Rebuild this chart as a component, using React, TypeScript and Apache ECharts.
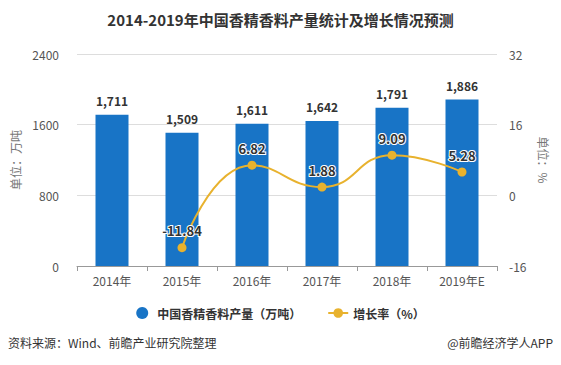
import React, { useEffect, useRef } from "react";
import * as echarts from "echarts";

const categories = ["2014年", "2015年", "2016年", "2017年", "2018年", "2019年E"];
const production = [1711, 1509, 1611, 1642, 1791, 1886];
const growth: (number | null)[] = [null, -11.84, 6.82, 1.88, 9.09, 5.28];
const leftTicks = { min: 0, max: 2400, interval: 800 };
const rightTicks = { min: -16, max: 32, interval: 16 };

const FONT = "'Noto Sans CJK SC', 'Noto Sans', sans-serif";

export default function App() {
  const ref = useRef<HTMLDivElement>(null);
  useEffect(() => {
    if (!ref.current) return;
    const chart = echarts.init(ref.current, undefined, { renderer: "svg" });
    chart.setOption({
      animation: false,
      backgroundColor: "#fff",
      textStyle: { fontFamily: FONT },
      title: {
        text: "2014-2019年中国香精香料产量统计及增长情况预测",
        left: "center",
        top: 7,
        textStyle: { fontSize: 15, fontWeight: "bold", color: "#333", fontFamily: FONT },
      },
      grid: { left: 77, right: 64, top: 54, bottom: 99 },
      legend: {
        bottom: 41,
        left: "center",
        itemGap: 26,
        itemWidth: 20,
        itemHeight: 12,
        textStyle: { fontSize: 12, color: "#333", fontWeight: "bold", fontFamily: FONT },
        data: [
          { name: "中国香精香料产量（万吨）", icon: "circle" },
          { name: "增长率（%）" },
        ],
      },
      xAxis: {
        type: "category",
        data: categories,
        axisLine: { lineStyle: { color: "#999" } },
        axisTick: { show: true, alignWithLabel: false, lineStyle: { color: "#999" } },
        axisLabel: { color: "#555", fontSize: 12, margin: 8 },
      },
      yAxis: [
        {
          type: "value",
          ...leftTicks,
          name: "单位：万吨",
          nameLocation: "middle",
          nameGap: 44,
          nameRotate: 90,
          nameTextStyle: { color: "#777", fontSize: 12 },
          axisLine: { show: false },
          axisTick: { show: false },
          axisLabel: { color: "#555", fontSize: 12, margin: 18, formatter: (v: number) => String(v) },
          splitLine: { lineStyle: { color: "#ddd" } },
        },
        {
          type: "value",
          ...rightTicks,
          name: "单位：%",
          nameLocation: "middle",
          nameGap: 40,
          nameRotate: -90,
          nameTextStyle: { color: "#777", fontSize: 12 },
          axisLine: { show: false },
          axisTick: { show: false },
          axisLabel: { color: "#555", fontSize: 12, margin: 12, formatter: (v: number) => String(v) },
          splitLine: { show: false },
        },
      ],
      series: [
        {
          name: "中国香精香料产量（万吨）",
          type: "bar",
          data: production,
          barWidth: 33,
          itemStyle: { color: "#1874C6" },
          label: {
            show: true,
            position: "top",
            distance: 8,
            color: "#333",
            fontWeight: "bold",
            fontSize: 12,
            formatter: (p: any) => Number(p.value).toLocaleString("en-US"),
          },
        },
        {
          name: "增长率（%）",
          type: "line",
          yAxisIndex: 1,
          data: growth,
          smooth: true,
          symbol: "circle",
          symbolSize: 9,
          lineStyle: { color: "#E8B22E", width: 2 },
          itemStyle: { color: "#E8B22E" },
          label: {
            show: true,
            position: "top",
            distance: 6,
            color: "#333",
            fontWeight: "bold",
            fontSize: 13,
            textBorderColor: "#fff",
            textBorderWidth: 2,
          },
        },
      ],
      graphic: [
        {
          type: "text",
          left: 8,
          top: 336,
          style: { text: "资料来源：Wind、前瞻产业研究院整理", fontSize: 12, fill: "#333", fontFamily: FONT },
        },
        {
          type: "text",
          right: 8,
          top: 336,
          style: { text: "@前瞻经济学人APP", fontSize: 12, fill: "#333", fontFamily: FONT },
        },
      ],
    });
    return () => chart.dispose();
  }, []);
  return (
    <div
      ref={ref}
      style={{ position: "fixed", left: 0, top: 0, width: 561, height: 365 }}
    />
  );
}
